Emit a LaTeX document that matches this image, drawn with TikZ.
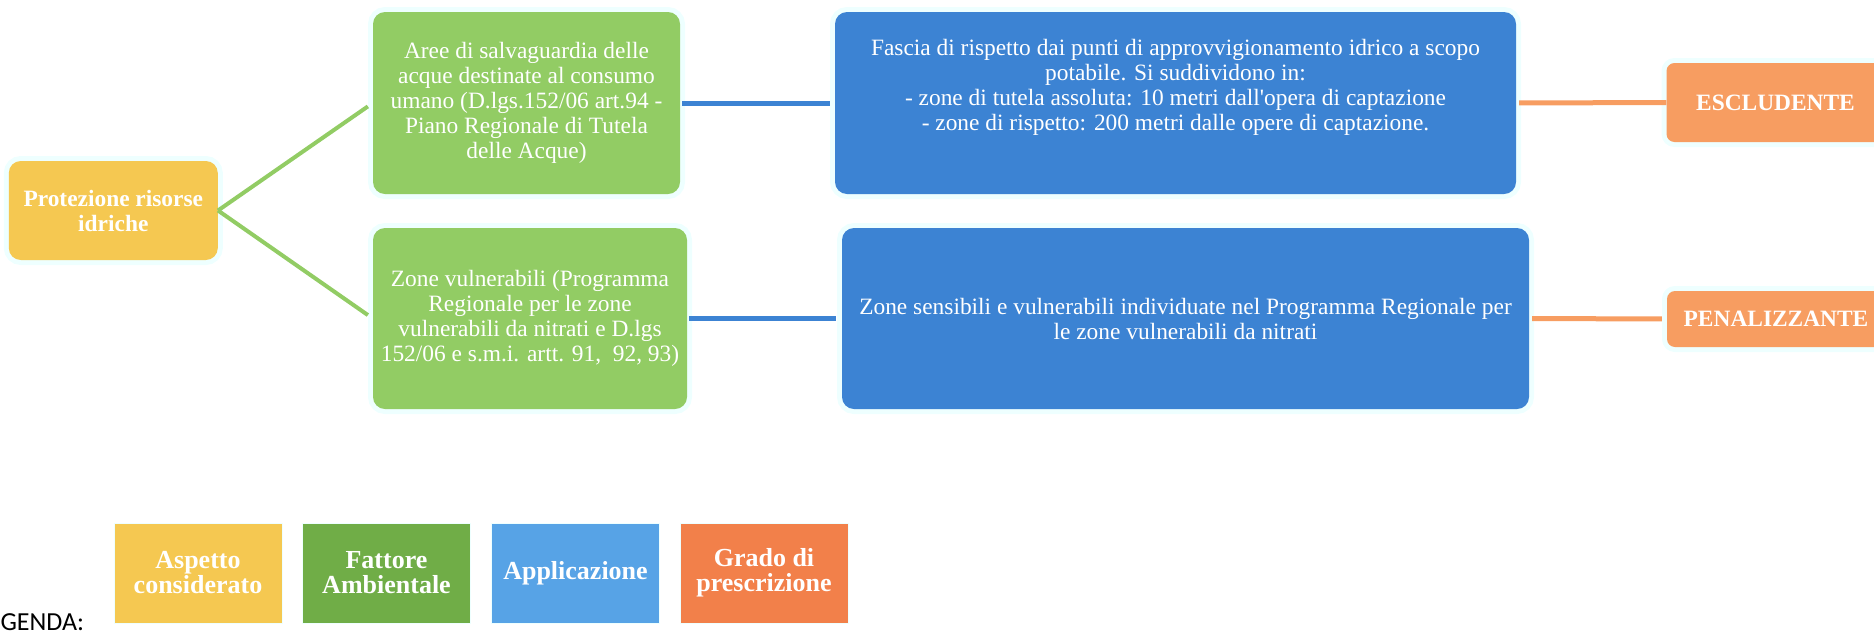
\documentclass[tikz,border=0pt]{standalone}
\usepackage{fontspec}
\setmainfont{Liberation Serif}
\newfontfamily\legendafont{Carlito}
\usetikzlibrary{positioning,calc}

\definecolor{giallo}{HTML}{F5C851}
\definecolor{verde}{HTML}{92CC64}
\definecolor{blu}{HTML}{3C83D3}
\definecolor{arancio}{HTML}{F79D61}
\definecolor{alone}{HTML}{EEFFFF}
\definecolor{legverde}{HTML}{70AD47}
\definecolor{legblu}{HTML}{57A3E6}
\definecolor{legarancio}{HTML}{F2804A}

\begin{document}
\begin{tikzpicture}[x=1pt,y=-1pt,
    box/.style={rounded corners=12pt, text=white, align=center, inner sep=2pt,
        font=\fontsize{23.4}{25}\selectfont,
        preaction={draw=alone, line width=10pt}},
    aspetto/.style={box, fill=giallo, font=\bfseries\fontsize{23.4}{25}\selectfont},
    fattore/.style={box, fill=verde},
    applic/.style={box, fill=blu},
    grado/.style={box, fill=arancio, rounded corners=8pt, font=\bfseries\fontsize{23.4}{25}\selectfont},
    testo/.style={text=white, align=center, inner sep=0pt, font=\fontsize{23.4}{25}\selectfont},
    legbox/.style={minimum width=168pt, minimum height=100pt, inner sep=0pt, text=white,
        align=center, draw=alone, line width=1pt, font=\bfseries\fontsize{26}{25}\selectfont},
    ramo/.style={draw=verde, line width=4pt},
    link/.style={draw=blu, line width=5pt},
    esito/.style={draw=arancio, line width=5pt}]

    \useasboundingbox (0,0) rectangle (1874,630);
    \clip (0,0) rectangle (1874,630);

    % aspetto considerato
    \node[aspetto, minimum width=209pt, minimum height=99pt] (prot) at (113.3,210.5) {Protezione risorse\\idriche};

    % fattori ambientali
    \node[fattore, minimum width=307pt, minimum height=182pt] (salv) at (526.5,103) {Aree di salvaguardia delle\\acque destinate al consumo\\umano (D.lgs.152/06 art.94 -\\Piano Regionale di Tutela\\delle Acque)};
    \node[fattore, minimum width=314pt, minimum height=181pt] (vuln) at (530,318.5) {Zone vulnerabili (Programma\\Regionale per le zone\\vulnerabili da nitrati e D.lgs\\152/06 e s.m.i. artt. 91,~ 92, 93)};

    % applicazione
    \node[applic, minimum width=681pt, minimum height=182pt] (fascia) at (1175.5,103) {};
    \node[testo] (fasciatxt) at ($(fascia)+(0,-16)$) {Fascia di rispetto dai punti di approvvigionamento idrico a scopo\\potabile. Si suddividono in:\\- zone di tutela assoluta: 10 metri dall\textquotesingle opera di captazione\\- zone di rispetto: 200 metri dalle opere di captazione.};
    \node[applic, minimum width=687pt, minimum height=181pt] (sens) at (1185.5,318.5) {Zone sensibili e vulnerabili individuate nel Programma Regionale per\\le zone vulnerabili da nitrati};

    % grado di prescrizione
    \node[grado, minimum width=218pt, minimum height=79pt] (escl) at (1775.5,102.5) {ESCLUDENTE};
    \node[grado, minimum width=218pt, minimum height=56pt] (penal) at (1776,319) {PENALIZZANTE};

    % collegamenti
    \path [ramo, shorten >=6pt] (prot.east) -- (salv.west);
    \path [ramo, shorten >=6pt] (prot.east) -- (vuln.west);
    \path [link, shorten <=2pt, shorten >=5pt] (salv.east) -- (fascia.west);
    \path [link, shorten <=2pt, shorten >=6pt] (vuln.east) -- (sens.west);
    \path [esito, shorten <=3pt] (fascia.east) -- (escl.west);
    \path [esito, shorten <=3pt, shorten >=5pt] (sens.east) -- (penal.west);

    % legenda
    \node[anchor=base west, inner sep=0pt, font=\legendafont\fontsize{26}{28}\selectfont] (legenda) at (-23,630) {LEGENDA:};
    \node[legbox, fill=giallo] (legasp) at (198,573) {Aspetto\\considerato};
    \node[legbox, fill=legverde] (legfat) at (386.5,573) {Fattore\\Ambientale};
    \node[legbox, fill=legblu] (legapp) at (575.5,573) {Applicazione};
    \node[legbox, fill=legarancio] (leggra) at (764,573) {Grado di\\prescrizione};
\end{tikzpicture}
\end{document}
